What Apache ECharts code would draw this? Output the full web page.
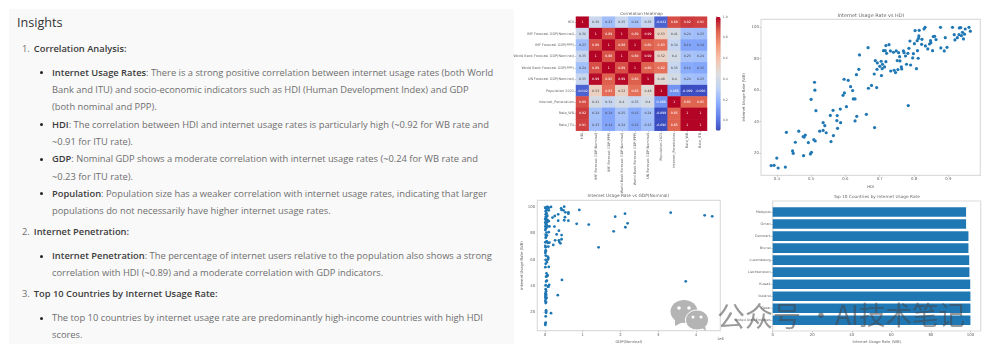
<!DOCTYPE html>
<html>
<head>
<meta charset="utf-8">
<script src="https://cdn.jsdelivr.net/npm/echarts@6/dist/echarts.min.js"></script>
<style>
  html, body { margin: 0; padding: 0; background: #fff; }
  #stage { position: relative; width: 999px; height: 356px; overflow: hidden; filter: blur(0.35px); }
  #panel { position: absolute; left: 9px; top: 9px; width: 505px; height: 335px; background: #f9f9f9; }
  #chart { position: absolute; left: 0; top: 0; width: 999px; height: 356px; }
  .ln { position: absolute; left: 52px; white-space: nowrap; transform: translateY(-50%);
        font: 9.33px/12px "Open Sans", sans-serif; color: #6e6e6e; }
  .ln b { font-weight: 600; color: #3c3c3c; }
  .num { left: 22px; }
  .num b { margin-left: 4px; }
  .dot { position: absolute; left: 40px; width: 3px; height: 3px; margin-top: -1.5px; border-radius: 50%; background: #222; }
  h3 { position: absolute; left: 17px; top: 23px; margin: 0; transform: translateY(-50%);
       font: 400 12.6px/16px "Open Sans", sans-serif; color: #333; }
</style>
</head>
<body>
<div id="stage">
  <div id="panel"></div>
  <h3>Insights</h3>
  <div class="ln num" style="top:49px">1.<b>Correlation Analysis:</b></div>
  <i class="dot" style="top:72.5px"></i>
  <div class="ln" style="top:72.5px"><b>Internet Usage Rates</b>: There is a strong positive correlation between internet usage rates (both World</div>
  <div class="ln" style="top:89.7px">Bank and ITU) and socio-economic indicators such as HDI (Human Development Index) and GDP</div>
  <div class="ln" style="top:107px">(both nominal and PPP).</div>
  <i class="dot" style="top:124.7px"></i>
  <div class="ln" style="top:124.7px"><b>HDI</b>: The correlation between HDI and internet usage rates is particularly high (~0.92 for WB rate and</div>
  <div class="ln" style="top:141.7px">~0.91 for ITU rate).</div>
  <i class="dot" style="top:159px"></i>
  <div class="ln" style="top:159px"><b>GDP</b>: Nominal GDP shows a moderate correlation with internet usage rates (~0.24 for WB rate and</div>
  <div class="ln" style="top:176.7px">~0.23 for ITU rate).</div>
  <i class="dot" style="top:193.7px"></i>
  <div class="ln" style="top:193.7px"><b>Population</b>: Population size has a weaker correlation with internet usage rates, indicating that larger</div>
  <div class="ln" style="top:211px">populations do not necessarily have higher internet usage rates.</div>
  <div class="ln num" style="top:232px">2.<b>Internet Penetration:</b></div>
  <i class="dot" style="top:256px"></i>
  <div class="ln" style="top:256px"><b>Internet Penetration</b>: The percentage of internet users relative to the population also shows a strong</div>
  <div class="ln" style="top:273.3px">correlation with HDI (~0.89) and a moderate correlation with GDP indicators.</div>
  <div class="ln num" style="top:294.3px">3.<b>Top 10 Countries by Internet Usage Rate:</b></div>
  <i class="dot" style="top:318px"></i>
  <div class="ln" style="top:318px">The top 10 countries by internet usage rate are predominantly high-income countries with high HDI</div>
  <div class="ln" style="top:335.3px">scores.</div>
  <div id="chart"></div>
</div>
<script>
// 相关性矩阵
const corrLabels = [
  "HDI", "IMF Forecast GDP(Nominal)", "IMF Forecast GDP(PPP)", "World Bank Forecast GDP(Nominal)",
  "World Bank Forecast GDP(PPP)", "UN Forecast GDP(Nominal)", "Population 2023",
  "Internet_Penetration", "Rate_WB", "Rate_ITU",
];
const corrMatrix = [
  [1, 0.36, 0.23, 0.35, 0.24, 0.35, -0.042, 0.89, 0.92, 0.91],
  [0.36, 1, 0.89, 1, 0.89, 0.99, 0.53, 0.41, 0.24, 0.23],
  [0.23, 0.89, 1, 0.88, 1, 0.86, 0.83, 0.34, 0.14, 0.14],
  [0.35, 1, 0.88, 1, 0.89, 0.99, 0.52, 0.4, 0.25, 0.24],
  [0.24, 0.89, 1, 0.89, 1, 0.86, 0.82, 0.35, 0.16, 0.15],
  [0.35, 0.99, 0.86, 0.99, 0.86, 1, 0.48, 0.4, 0.24, 0.23],
  [-0.042, 0.53, 0.83, 0.52, 0.82, 0.48, 1, 0.088, -0.099, -0.096],
  [0.89, 0.41, 0.34, 0.4, 0.35, 0.4, 0.088, 1, 0.85, 0.85],
  [0.92, 0.24, 0.14, 0.25, 0.16, 0.24, -0.099, 0.85, 1, 1],
  [0.91, 0.23, 0.14, 0.24, 0.15, 0.23, -0.096, 0.85, 1, 1],
];
const colorbarTicks = [0, 0.2, 0.4, 0.6, 0.8, 1];

// HDI 散点 [HDI, 使用率]
const hdiPoints = [
  [0.3835,12.2],[0.392,12.4],[0.4,17],[0.404,10.7],[0.425,11.3],[0.428,33.3],[0.446,21.5],[0.448,20],
  [0.454,27],[0.464,34],[0.477,30.6],[0.478,18.5],[0.48,30.3],[0.483,31.6],[0.492,26.8],[0.498,19.6],
  [0.501,20.6],[0.5,54.2],[0.508,28.6],[0.512,27.8],[0.51,65],[0.511,60],[0.514,47],[0.525,34],
  [0.535,34.5],[0.535,39.4],[0.54,37.5],[0.544,33],[0.556,44],[0.558,27.4],[0.565,31.2],[0.564,47.2],
  [0.575,40.7],[0.576,43.9],[0.577,35.8],[0.585,48],[0.586,39.4],[0.593,56.7],[0.597,58.2],[0.596,66.9],
  [0.603,49.5],[0.608,66.2],[0.615,62.2],[0.621,59.7],[0.623,54.4],[0.628,54.4],[0.628,40.5],[0.633,43.4],
  [0.632,69.8],[0.639,73.2],[0.641,82.3],[0.661,44.7],[0.666,86.9],[0.667,61.2],[0.676,63],[0.684,70.2],
  [0.685,36.3],[0.687,78.7],[0.691,61.6],[0.692,73.2],[0.693,77.2],[0.7,75.1],[0.704,78.3],[0.705,69.2],
  [0.707,73.6],[0.708,76.4],[0.711,85],[0.714,74.7],[0.716,85],[0.718,78],[0.718,88.2],[0.72,83.3],
  [0.727,88.8],[0.731,84.8],[0.732,72.1],[0.74,84],[0.742,72.6],[0.746,71.1],[0.748,84.8],[0.751,78.7],
  [0.753,73],[0.755,83.7],[0.758,81.2],[0.759,78.5],[0.763,74.7],[0.764,73.4],[0.769,84.8],[0.771,83.7],
  [0.775,81.6],[0.778,76.4],[0.782,83.3],[0.783,50.2],[0.785,86.5],[0.788,91.1],[0.79,75.9],[0.796,80.4],
  [0.798,83.1],[0.801,89.4],[0.803,97.7],[0.807,73.6],[0.809,91.3],[0.81,85],[0.812,80.2],[0.813,92.8],
  [0.814,94.3],[0.815,97.9],[0.822,89],[0.823,92.2],[0.829,98.7],[0.832,99.8],[0.833,88],[0.84,86.1],
  [0.845,89.2],[0.848,91.3],[0.849,90],[0.854,85],[0.856,93.9],[0.86,94.1],[0.864,92],[0.877,99.8],
  [0.878,86.7],[0.888,84.8],[0.891,93.2],[0.896,87.1],[0.912,99.8],[0.917,95.1],[0.919,91.8],[0.926,93.2],
  [0.931,95.1],[0.932,99.4],[0.936,99.6],[0.938,94.5],[0.941,96.6],[0.944,92.4],[0.947,95.4],[0.949,98.7],
  [0.96,99.8],[0.964,97.3],
];
const hdiTicks = [0.4, 0.5, 0.6, 0.7, 0.8, 0.9];

// GDP 散点 [GDP(1e6), 使用率]
const gdpPoints = [
  [0.01,10.5],[0.01,11.5],[0.02,12.2],[0.02,17],[0.03,19.6],[0.03,20.6],[0.03,21.5],[0.16,19.4],
  [0.02,27],[0.03,27.8],[0.01,28.6],[0.02,30.3],[0.03,30.6],[0.04,31.2],[0.01,31.6],[0.02,33],
  [0.03,33.3],[0.34,33],[0.01,34],[0.02,34.5],[0.03,36],[0.02,37.5],[0.09,39.4],[0.08,39.4],
  [0.11,40.7],[0.02,40.5],[0.03,43.4],[0.05,44],[0.45,44.5],[0.03,47],[0.06,47.5],[0.07,48],
  [0.04,49.5],[0.01,54.2],[0.1,54.4],[0.02,56.7],[0.05,58],[0.02,59.7],[0.08,60],[0.09,61.2],
  [0.07,62.2],[0.02,63],[0.01,65],[0.02,66.2],[0.02,66.9],[0.02,69.2],[0.09,69.8],[1.42,69.2],
  [0.01,70.2],[0.22,71],[0.27,74.5],[0.38,73.2],[0.41,72.2],[0.37,74.5],[0.44,75.3],[0.31,79],
  [0.44,78.5],[0.37,81.8],[0.25,84.9],[0.35,89.4],[0.35,94.2],[0.26,92.9],[0.2,91.7],[0.43,98.7],
  [0.44,97.5],[0.49,97.2],[0.51,100],[0.54,95.7],[0.53,92],[0.51,89.7],[0.62,95.7],[0.62,94.7],
  [0.62,89.4],[0.84,87],[0.91,97.5],[1.16,86.4],[1.82,81.3],[1.86,92.4],[2.12,94.7],[2.13,84.4],
  [2.19,87.4],[3.33,95.4],[3.73,43.5],[4.23,93.4],[4.43,92.7],[0.01,73],[0.03,73.3],[0.05,73.6],
  [0.08,72.5],[0.12,72.8],[0.02,76.4],[0.03,77.2],[0.05,78.3],[0.02,78.7],[0.04,80.4],[0.1,80.7],
  [0.01,82.3],[0.02,83.3],[0.04,84],[0.01,85],[0.07,85],[0.12,85],[0.04,86.5],[0.02,86.9],
  [0.01,88],[0.05,88.2],[0.1,89],[0.03,89.4],[0.07,89.7],[0.01,90.5],[0.03,91.3],[0.02,92.2],
  [0.05,92.8],[0.06,93.2],[0.02,94.2],[0.04,95],[0.02,96.5],[0.05,97.5],[0.1,97.2],[0.02,98.7],
  [0.04,99.4],[0.06,99.8],[0.08,99.6],[0.01,99.2],[0.16,99.8],[0.1,99],
];
const gdpTicks = [0, 1, 2, 3, 4];
const rateTicks = [20, 40, 60, 80, 100];

// 使用率前十
const topCountries = ["Malaysia", "Oman", "Denmark", "Brunei", "Luxembourg", "Liechtenstein", "Kuwait", "Iceland", "Qatar", "United Arab Emirates"];
const topRates = [97.8, 97.8, 99, 99, 99.4, 99.5, 99.9, 100, 100, 100];
const barTicks = [0, 20, 40, 60, 80, 100];

const coolwarm = ["#3b4cc0", "#6282ea", "#8db0fe", "#c0d4f5", "#dddddd", "#f5c4ad", "#f4987a", "#de604d", "#b40426"];
const FONT = "DejaVu Sans";
const BLUE = "#1f77b4";
const TEXT = "#666";
const SPINE = "#dcdcdc";
const TICK_LINE = { color: "#999", width: 0.5 };

let myChart = echarts.init(document.getElementById("chart"), null, { renderer: "canvas" });

// 矩阵转热力图数据，深色格子用白字
let heatData = [];
corrMatrix.forEach((row, r) => {
  row.forEach((v, c) => {
    heatData.push({
      value: [c, r, v],
      label: { color: v >= 0.8 || v < 0.1 ? "#fff" : "#444" },
    });
  });
});

function plainGrid(left, top, width, height) {
  return { left, top, width, height, outerBoundsMode: "none" };
}

function spineGrid(left, top, width, height) {
  return Object.assign(plainGrid(left, top, width, height), {
    show: true, borderColor: SPINE, borderWidth: 1.2, backgroundColor: "transparent",
  });
}

function plotTitle(text, x, y, size) {
  return { text, left: x, top: y, textAlign: "center", padding: 0, textStyle: { fontFamily: FONT, fontSize: size, fontWeight: "normal", color: "#666" } };
}

// 刻度都用 customValues，min/max 保持 matplotlib 的留白
function valueAxis(gridIndex, min, max, ticks, name, nameGap, extra) {
  return Object.assign({
    type: "value", gridIndex, min, max, name,
    nameLocation: "middle", nameGap,
    nameTextStyle: { fontFamily: FONT, fontSize: 3.8, color: TEXT },
    axisLine: { show: false },
    axisTick: { show: true, length: 1.5, customValues: ticks, lineStyle: TICK_LINE },
    splitLine: { show: false },
    axisLabel: { fontFamily: FONT, fontSize: 3.9, color: TEXT, margin: 2, customValues: ticks },
  }, extra);
}

function catAxis(gridIndex, data, labelExtra, extra) {
  return Object.assign({
    type: "category", gridIndex, data,
    axisLine: { show: false },
    axisTick: { show: true, length: 1.5, alignWithLabel: true, lineStyle: TICK_LINE },
    splitLine: { show: false },
    axisLabel: Object.assign({ fontFamily: FONT, fontSize: 3.45, color: TEXT, margin: 2, interval: 0, width: 90, overflow: "none" }, labelExtra),
  }, extra);
}

let option = {
  animation: false,
  title: [
    plotTitle("Correlation Heatmap", 641.5, 12, 4.1),
    plotTitle("Internet Usage Rate vs HDI", 870.7, 13, 4.9),
    plotTitle("Internet Usage Rate vs GDP(Nominal)", 628.3, 194, 4.35),
    plotTitle("Top 10 Countries by Internet Usage Rate", 876.7, 195, 4.25),
  ],
  grid: [
    plainGrid(576, 16.7, 131, 114),
    plainGrid(715.7, 16.7, 5, 114),
    spineGrid(761, 19.3, 219.3, 156),
    spineGrid(537.3, 200.3, 183, 130.4),
    spineGrid(772.7, 201, 208, 130),
    // 柱子所在网格，上下各留半格边距
    plainGrid(772.7, 206, 208, 120.3),
  ],
  xAxis: [
    catAxis(0, corrLabels, { rotate: 90 }),
    { type: "value", gridIndex: 1, show: false, min: 0, max: 1 },
    valueAxis(2, 0.354, 0.993, hdiTicks, "HDI", 10, {}),
    valueAxis(3, -0.203, 4.645, gdpTicks, "GDP(Nominal)", 9, {}),
    { type: "value", gridIndex: 4, show: false, min: 0, max: 1 },
    valueAxis(5, 0, 105.2, barTicks, "Internet Usage Rate (WB)", 9, { offset: 4.7 }),
  ],
  yAxis: [
    catAxis(0, corrLabels, {}, { inverse: true }),
    valueAxis(1, -0.099, 1, colorbarTicks, "", 0, {
      position: "right",
      axisLabel: { fontFamily: FONT, fontSize: 3.2, color: TEXT, margin: 2, customValues: colorbarTicks, formatter: (v) => v.toFixed(1) },
    }),
    valueAxis(2, 6.07, 104.85, rateTicks, "Internet Usage Rate (WB)", 15, {}),
    valueAxis(3, 6.1, 104.8, rateTicks, "Internet Usage Rate (WB)", 13, {}),
    { type: "value", gridIndex: 4, show: false, min: 0, max: 1 },
    catAxis(5, topCountries, { fontSize: 3.4 }, { inverse: true }),
  ],
  visualMap: {
    type: "continuous",
    seriesIndex: 0,
    dimension: 2,
    min: -0.099,
    max: 1,
    left: 715.7,
    top: 16.7,
    itemWidth: 5,
    itemHeight: 114,
    padding: 0,
    text: null,
    calculable: false,
    hoverLink: false,
    inRange: { color: coolwarm },
  },
  series: [
    {
      type: "heatmap",
      xAxisIndex: 0,
      yAxisIndex: 0,
      data: heatData,
      label: { show: true, fontFamily: FONT, fontSize: 3.2, formatter: (p) => String(p.value[2]) },
      emphasis: { disabled: true },
    },
    {
      type: "scatter",
      xAxisIndex: 2,
      yAxisIndex: 2,
      data: hdiPoints,
      symbolSize: 3.2,
      itemStyle: { color: BLUE, opacity: 1 },
    },
    {
      type: "scatter",
      xAxisIndex: 3,
      yAxisIndex: 3,
      data: gdpPoints,
      symbolSize: 2.8,
      itemStyle: { color: BLUE, opacity: 1 },
    },
    {
      type: "bar",
      xAxisIndex: 5,
      yAxisIndex: 5,
      data: topRates,
      barWidth: "80%",
      itemStyle: { color: BLUE },
    },
  ],
  graphic: [
    { type: "text", x: 717, y: 337, style: { text: "1e6", fontFamily: FONT, fontSize: 3.6, fill: TEXT }, silent: true },
    // 水印
    { type: "ellipse", z: 100, shape: { cx: 684, cy: 311.5, rx: 13.5, ry: 11.5 }, style: { fill: "#b4b4b4" }, silent: true },
    { type: "polygon", z: 100, shape: { points: [[675, 319], [675, 326], [683, 322]] }, style: { fill: "#b4b4b4" }, silent: true },
    { type: "ellipse", z: 100, shape: { cx: 697, cy: 320, rx: 11.5, ry: 10 }, style: { fill: "#b4b4b4", stroke: "#fff", lineWidth: 1 }, silent: true },
    { type: "polygon", z: 100, shape: { points: [[702, 328], [706, 331], [705, 325]] }, style: { fill: "#b4b4b4" }, silent: true },
    { type: "circle", z: 101, shape: { cx: 679, cy: 308, r: 1.8 }, style: { fill: "#fff" }, silent: true },
    { type: "circle", z: 101, shape: { cx: 689, cy: 308, r: 1.8 }, style: { fill: "#fff" }, silent: true },
    { type: "circle", z: 101, shape: { cx: 693, cy: 317, r: 1.5 }, style: { fill: "#fff" }, silent: true },
    { type: "circle", z: 101, shape: { cx: 701, cy: 317, r: 1.5 }, style: { fill: "#fff" }, silent: true },
    { type: "text", z: 102, x: 717, y: 302, style: { text: "公众号", fontFamily: "Noto Sans CJK SC", fontSize: 28, fill: "rgba(70,70,70,0.55)" }, silent: true },
    { type: "text", z: 102, x: 808, y: 302, style: { text: "·", fontFamily: "Noto Sans CJK SC", fontSize: 26, fill: "rgba(70,70,70,0.55)" }, silent: true },
    { type: "text", z: 102, x: 835, y: 302, style: { text: "AI技术笔记", fontFamily: "Noto Sans CJK SC", fontSize: 26.5, fill: "rgba(70,70,70,0.55)" }, silent: true },
  ],
};

myChart.setOption(option);
</script>
</body>
</html>
